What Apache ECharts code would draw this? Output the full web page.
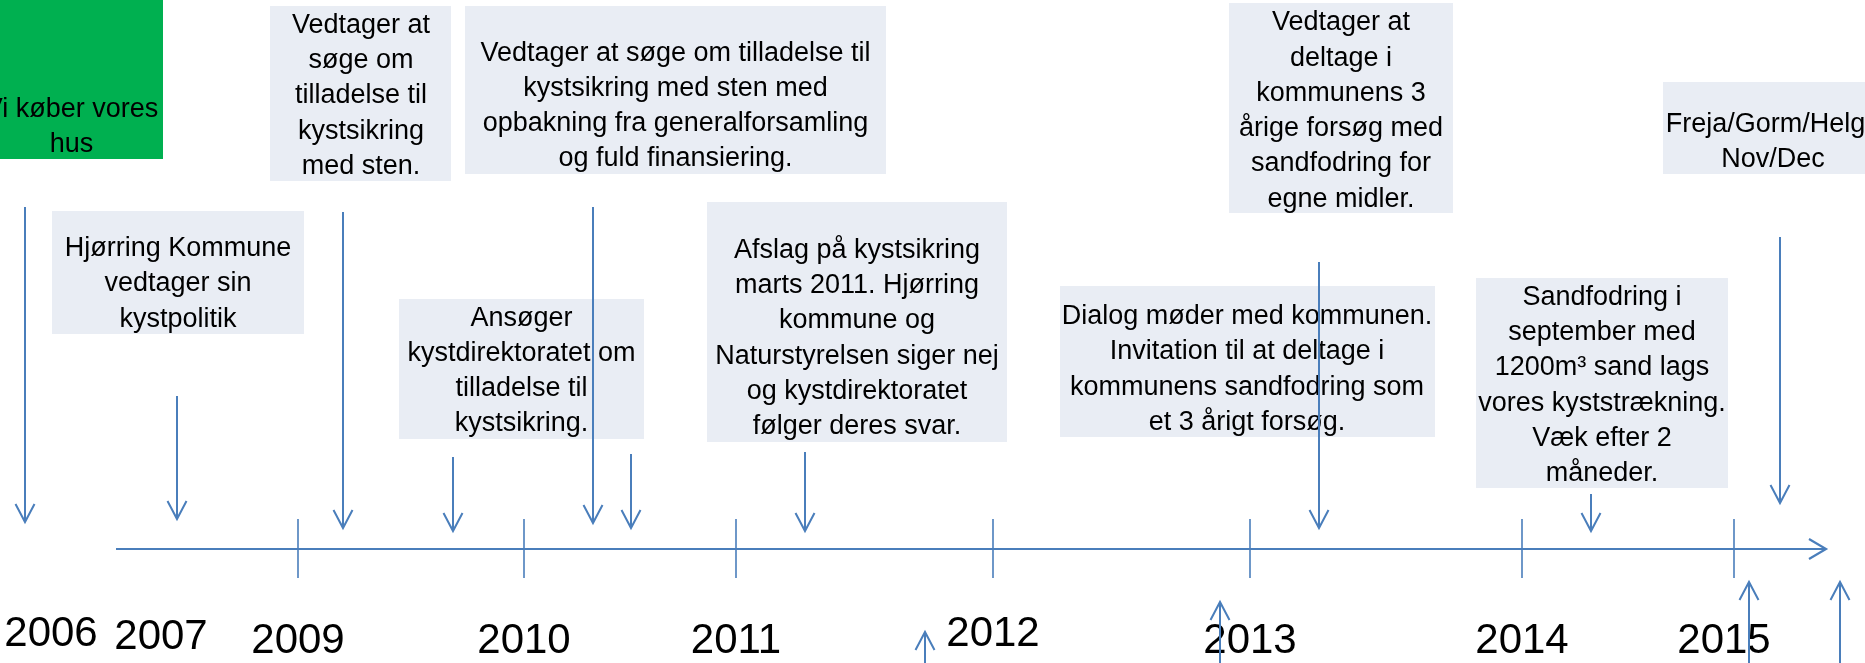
<!DOCTYPE html>
<html><head><meta charset="utf-8">
<script src="https://cdn.jsdelivr.net/npm/echarts@6/dist/echarts.min.js"></script>
<style>html,body{margin:0;padding:0;background:#fff;overflow:hidden}#c{width:1865px;height:663px;}</style>
</head><body><div id="c"></div>
<script>
// ---- data ----
const yearLabels = ['2006','2007','2009','2010','2011','2012','2013','2014','2015'];
const yearLabelX = [51, 161, 298, 524, 736, 993, 1250, 1522, 1724];
const yearLabelY = [634, 637, 641, 641, 641, 634, 641, 641, 641];
const tickX = [298, 524, 736, 993, 1250, 1522, 1734];

const eventTexts = [
  'Vi køber vores\nhus',
  'Vedtager at\nsøge om\ntilladelse til\nkystsikring\nmed sten.',
  'Vedtager at søge om tilladelse til\nkystsikring med sten med\nopbakning fra generalforsamling\nog fuld finansiering.',
  'Hjørring Kommune\nvedtager sin\nkystpolitik',
  'Ansøger\nkystdirektoratet om\ntilladelse til\nkystsikring.',
  'Afslag på kystsikring\nmarts 2011. Hjørring\nkommune og\nNaturstyrelsen siger nej\nog kystdirektoratet\nfølger deres svar.',
  'Dialog møder med kommunen.\nInvitation til at deltage i\nkommunens sandfodring som\net 3 årigt forsøg.',
  'Vedtager at\ndeltage i\nkommunens 3\nårige forsøg med\nsandfodring for\negne midler.',
  'Sandfodring i\nseptember med\n1200m³ sand lags\nvores kyststrækning.\nVæk efter 2\nmåneder.',
  'Freja/Gorm/Helga\nNov/Dec'
];
const boxLeft   = [-20, 270, 465,  52, 399,  707, 1060, 1229, 1476, 1663];
const boxTop    = [-10,   6,   6, 211, 299,  202,  286,    3,  278,   82];
const boxRight  = [163, 451, 886, 304, 644, 1007, 1435, 1453, 1728, 1883];
const boxBottom = [159, 181, 174, 334, 439,  442,  437,  213,  488,  174];
const textX     = [71.5, 361, 675.5, 178, 521.5, 857, 1247, 1341, 1602, 1773];
const textY     = [127,   96, 106,   284, 371, 338.5, 369.5, 111, 385.5, 142];
const boxIsGreen = [true, false, false, false, false, false, false, false, false, false];

const downArrowX   = [25, 177, 343, 453, 593, 631, 805, 1319, 1591, 1780];
const downArrowTop = [207, 396, 212, 457, 207, 454, 452, 262, 494, 237];
const downArrowTip = [522, 519, 528, 531, 523, 528, 531, 528, 531, 503];
const upArrowX   = [925, 1220, 1749, 1840];
const upArrowTip = [632, 602, 582, 582];

const timelineStart = 116, timelineEnd = 1826, timelineY = 549;

// ---- styles ----
const BLUE = '#4A7EBB';
const BOXFILL = '#E9EDF4';
const GREEN = '#00B050';
const FONT = '"Liberation Sans", Arial, sans-serif';

const chart = echarts.init(document.getElementById('c'), null, {renderer: 'canvas'});

function boxItem(params, api) {
  const i = params.dataIndex;
  const p0 = api.coord([boxLeft[i], boxTop[i]]);
  const p1 = api.coord([boxRight[i], boxBottom[i]]);
  const c = api.coord([textX[i], textY[i]]);
  return {type: 'group', children: [
    {type: 'rect', shape: {x: p0[0], y: p0[1], width: p1[0] - p0[0], height: p1[1] - p0[1]},
     style: {fill: boxIsGreen[i] ? GREEN : BOXFILL}},
    {type: 'text', x: c[0], y: c[1],
     style: {text: eventTexts[i], fill: '#000', fontSize: 27, fontFamily: FONT,
             align: 'center', verticalAlign: 'middle', lineHeight: 35.3}}
  ]};
}
function yearItem(params, api) {
  const i = params.dataIndex;
  const c = api.coord([yearLabelX[i], yearLabelY[i]]);
  return {type: 'text', x: c[0], y: c[1],
    style: {text: yearLabels[i], fill: '#000', fontSize: 42, fontFamily: FONT,
            align: 'center', verticalAlign: 'middle'}};
}
function timelineItem(params, api) {
  const a = api.coord([timelineStart, timelineY]);
  const b = api.coord([timelineEnd, timelineY]);
  return {type: 'group', children: [
    {type: 'line', shape: {x1: a[0], y1: a[1], x2: b[0] - 1, y2: b[1]}, style: {stroke: BLUE, lineWidth: 2.2}},
    {type: 'polyline', shape: {points: [[b[0] - 17, b[1] - 10], [b[0], b[1]], [b[0] - 17, b[1] + 10]]},
     style: {stroke: BLUE, lineWidth: 2.2, fill: null}}
  ]};
}
function tickItem(params, api) {
  const i = params.dataIndex;
  const a = api.coord([tickX[i], timelineY - 30]);
  const b = api.coord([tickX[i], timelineY + 29]);
  return {type: 'line', shape: {x1: a[0], y1: a[1], x2: b[0], y2: b[1]}, style: {stroke: BLUE, lineWidth: 1.6}};
}
function downItem(params, api) {
  const i = params.dataIndex;
  const a = api.coord([downArrowX[i], downArrowTop[i]]);
  const b = api.coord([downArrowX[i], downArrowTip[i]]);
  return {type: 'group', children: [
    {type: 'line', shape: {x1: a[0], y1: a[1], x2: b[0], y2: b[1] - 1}, style: {stroke: BLUE, lineWidth: 2}},
    {type: 'polyline', shape: {points: [[b[0] - 9.5, b[1] - 18], [b[0], b[1]], [b[0] + 9.5, b[1] - 18]]},
     style: {stroke: BLUE, lineWidth: 2, fill: null}}
  ]};
}
function upItem(params, api) {
  const i = params.dataIndex;
  const a = api.coord([upArrowX[i], upArrowTip[i]]);
  const b = api.coord([upArrowX[i], 663]);
  return {type: 'group', children: [
    {type: 'line', shape: {x1: a[0], y1: a[1] + 1, x2: b[0], y2: b[1] + 5}, style: {stroke: BLUE, lineWidth: 2}},
    {type: 'polyline', shape: {points: [[a[0] - 9.5, a[1] + 18], [a[0], a[1]], [a[0] + 9.5, a[1] + 18]]},
     style: {stroke: BLUE, lineWidth: 2, fill: null}}
  ]};
}

chart.setOption({
  animation: false,
  backgroundColor: '#ffffff',
  grid: {left: 0, right: 0, top: 0, bottom: 0},
  xAxis: {type: 'value', min: 0, max: 1865, show: false},
  yAxis: {type: 'value', min: 0, max: 663, inverse: true, show: false},
  series: [
    {type: 'custom', name: 'events', renderItem: boxItem, clip: false, z: 1,
     data: eventTexts.map((t, i) => [textX[i], textY[i]])},
    {type: 'custom', name: 'years', renderItem: yearItem, clip: false, z: 2,
     data: yearLabels.map((t, i) => [yearLabelX[i], yearLabelY[i]])},
    {type: 'custom', name: 'timeline', renderItem: timelineItem, clip: false, z: 3,
     data: [[timelineStart, timelineY]]},
    {type: 'custom', name: 'ticks', renderItem: tickItem, clip: false, z: 3,
     data: tickX.map(x => [x, timelineY])},
    {type: 'custom', name: 'down', renderItem: downItem, clip: false, z: 4,
     data: downArrowX.map((x, i) => [x, downArrowTip[i]])},
    {type: 'custom', name: 'up', renderItem: upItem, clip: false, z: 4,
     data: upArrowX.map((x, i) => [x, upArrowTip[i]])}
  ]
});
</script></body></html>
